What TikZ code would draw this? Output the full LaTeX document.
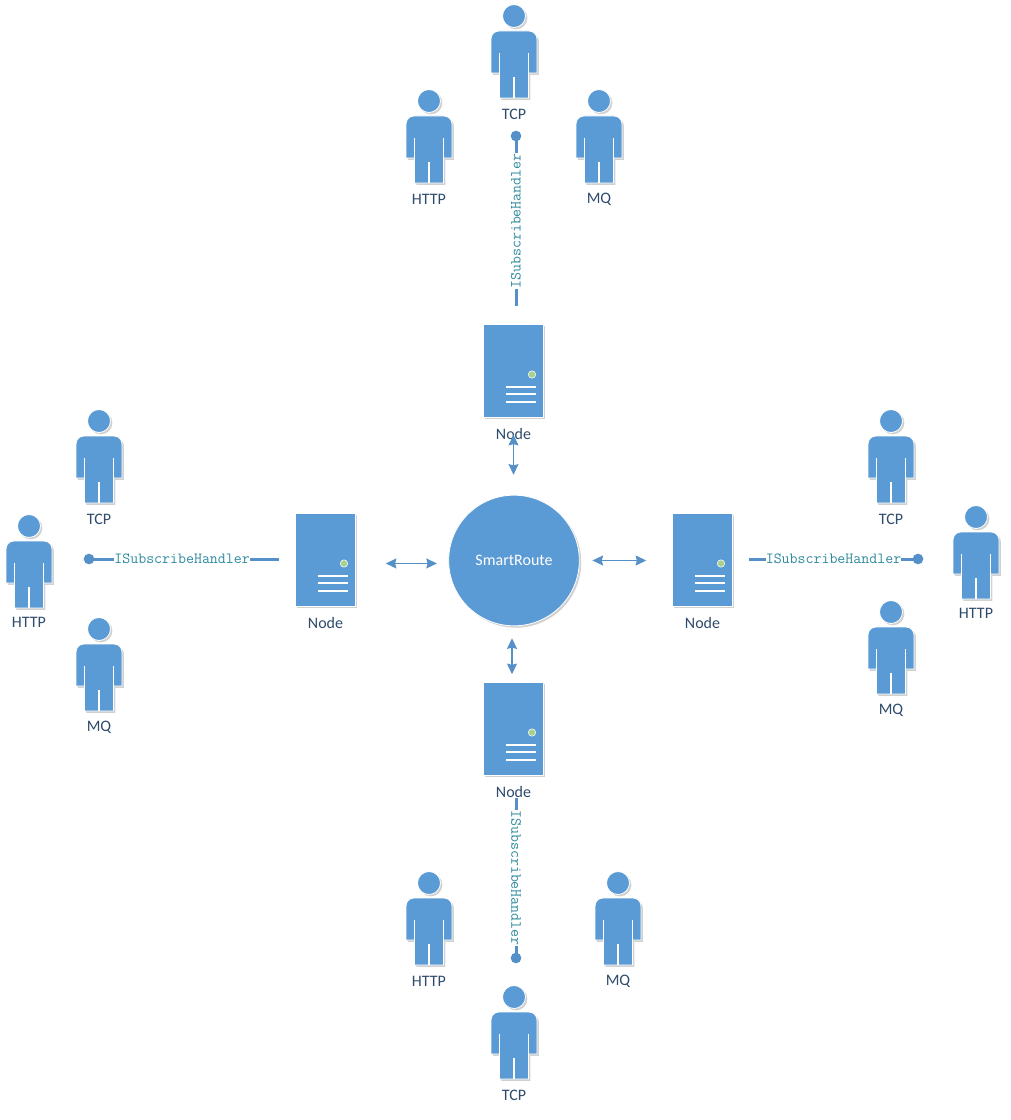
\documentclass[tikz,border=0pt]{standalone}
\usepackage{fontspec}
\setmainfont{Carlito}
\usetikzlibrary{shadows,arrows.meta}
\definecolor{fillblue}{HTML}{5B9BD5}
\definecolor{lineblue}{HTML}{5590C8}
\definecolor{labelink}{HTML}{2F4B6B}
\definecolor{handlerink}{HTML}{2E8B9E}
\definecolor{ledgreen}{HTML}{A9D18E}
\tikzset{
    softshadow/.style={drop shadow={shadow xshift=1.4pt,shadow yshift=-1.4pt,fill=black!60,opacity=.3}},
    person/.pic={
        \path[fill=fillblue,draw=white,line width=.6pt,softshadow] (0,0) circle (11.5);
        \path[fill=fillblue,draw=white,line width=.6pt,softshadow] (-23,57) [rounded corners=6pt] -- (-23,15) -- (23,15) [sharp corners] -- (23,57) -- (14.5,57) -- (14.5,82) -- (-14.5,82) -- (-14.5,57) -- cycle;
        \draw[white,line width=.9pt] (-14.5,37) -- (-14.5,57);
        \draw[white,line width=.9pt] (14.5,37) -- (14.5,57);
        \draw[white,line width=.9pt] (0,61) -- (0,82);
    },
    caption/.style={text=labelink,font=\fontsize{12}{14}\selectfont,inner sep=0pt},
    server/.style={fill=fillblue,draw=white,line width=.4pt,minimum width=45pt,minimum height=69.75pt,inner sep=0pt,softshadow},
    route/.style={circle,fill=fillblue,draw=white,line width=.6pt,minimum size=98pt,inner sep=0pt,softshadow,text=white,font=\fontsize{12}{14}\selectfont},
    link/.style={draw=lineblue,line width=.8pt,{Stealth[length=8pt,width=7.5pt,inset=1pt]}-{Stealth[length=8pt,width=7.5pt,inset=1pt]}},
    handler/.style={draw=lineblue,line width=2.25pt},
    handlerdot/.style={circle,fill=lineblue,minimum size=8pt,inner sep=0pt},
    handlertext/.style={fill=white,text=handlerink,inner xsep=0pt,inner ysep=1pt,font=\fontsize{11.6}{13}\ttfamily},
}
\newcommand{\serverbits}[2]{
    \fill[ledgreen,draw=white,line width=.4pt] (#1+18.5,#2+3.5) circle (3.7);
    \foreach \yy in {15.5,23,30.5}
        \draw[white,line width=1.5pt] (#1-7.5,#2+\yy) -- (#1+22,#2+\yy);
}
\begin{document}
\begin{tikzpicture}[x=.75pt,y=-.75pt]
    \useasboundingbox (0,0) rectangle (1010,1120);

    %%%%%%%%% Persone %%%%%%%%%
    \foreach \name/\x/\y/\gap/\txt in {
        tcpT/514/16/98/TCP, httpT/429/101/98/HTTP, mqT/599/101/98/MQ,
        tcpL/99/421/98/TCP, httpL/29/526/96/HTTP, mqL/99/629/98/MQ,
        tcpR/891/421/98/TCP, httpR/976/517/96/HTTP, mqR/891/612/98/MQ,
        tcpB/514/997/98/TCP, httpB/429/883/98/HTTP, mqB/618/883/98/MQ} {
        \pic at (\x,\y) {person};
        \node[caption] (\name) at (\x,\y+\gap) {\txt};
    }

    %%%%%%%%% Centro %%%%%%%%%%
    \node[route] (smartroute) at (514,560.5) {SmartRoute};

    %%%%%%%%% Server %%%%%%%%%%
    \foreach \name/\x/\y in {nodeT/513.5/371, nodeL/325.5/560, nodeR/702.5/560, nodeB/513.5/729} {
        \node[server] (\name) at (\x,\y) {};
        \serverbits{\x}{\y}
        \node[caption] (\name label) at (\x,\y+63) {Node};
    }

    %%%%%%%%% Frecce %%%%%%%%%%
    \draw[link,shorten <=12.75pt,shorten >=15pt] (nodeT.south) -- (nodeT.south |- smartroute.north);
    \draw[link,shorten <=22.5pt,shorten >=8.5pt] ([yshift=-2.6pt]nodeL.east) -- ([yshift=-2.6pt]nodeL.east -| smartroute.west);
    \draw[link,shorten <=9.5pt,shorten >=19.5pt] (smartroute.east) -- (smartroute.east -| nodeR.west);
    \draw[link,shorten <=9pt,shorten >=6pt] ([xshift=-1.5pt]smartroute.south) -- ([xshift=-1.5pt]smartroute.south |- nodeB.north);

    %%%%%%%%% Handler %%%%%%%%%
    \node[handlerdot] (dotT) at (516,136) {};
    \coordinate (endT) at (516,306);
    \draw[handler] (dotT.center) -- node[handlertext,rotate=90] {ISubscribeHandler} (endT);

    \node[handlerdot] (dotL) at (89,559) {};
    \coordinate (endL) at (279,559);
    \draw[handler] (dotL.center) -- node[handlertext,pos=.49] {ISubscribeHandler} (endL);

    \node[handlerdot] (dotR) at (918,559) {};
    \coordinate (endR) at (749,559);
    \draw[handler] (dotR.center) -- node[handlertext] {ISubscribeHandler} (endR);

    \node[handlerdot] (dotB) at (516,958) {};
    \coordinate (endB) at (516,798);
    \draw[handler] (dotB.center) -- node[handlertext,rotate=-90] {ISubscribeHandler} (endB);
\end{tikzpicture}
\end{document}
